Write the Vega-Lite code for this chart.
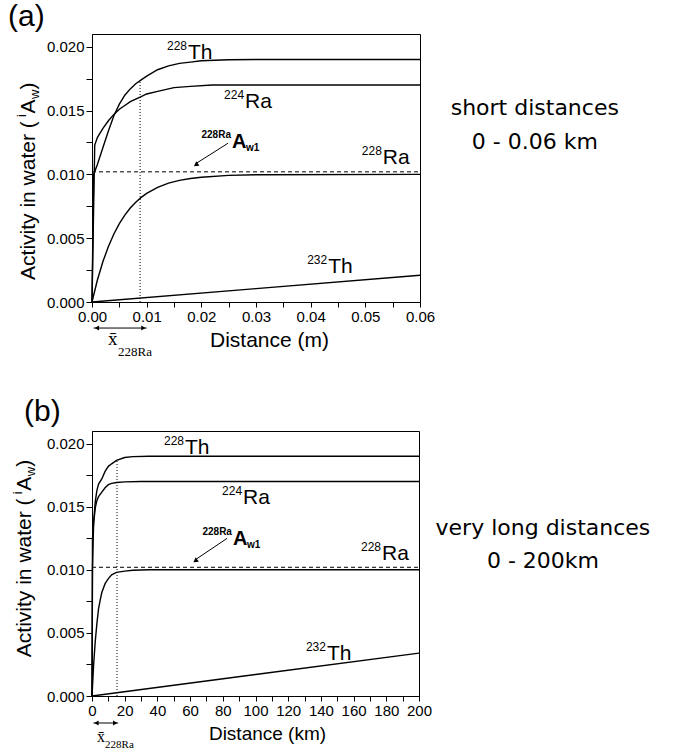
{
"padding": {"left": 7, "top": 1, "right": 5, "bottom": 2},
"bounds": "flush",
"spacing": 129,
"config": {
  "font": "Liberation Sans",
  "view": {"stroke": "black", "strokeWidth": 1},
  "mark": {"color": "black"},
  "axis": {"grid": false, "domainColor": "black", "tickColor": "black", "labelColor": "black", "titleColor": "black", "labelFont": "Liberation Sans", "titleFont": "Liberation Sans", "labelFontSize": 15, "titleFontSize": 21, "titleFontWeight": "normal", "labelFlush": false, "labelOverlap": false, "tickSize": 6, "labelPadding": 2, "domainWidth": 1, "tickWidth": 1}
},
"datasets": {
  "cA": [
    {"iso": "228Th", "x": 0, "y": 0}, {"iso": "228Th", "x": 0.0003, "y": 0.0100}, {"iso": "228Th", "x": 0.001, "y": 0.0108}, {"iso": "228Th", "x": 0.002, "y": 0.0121}, {"iso": "228Th", "x": 0.003, "y": 0.0134}, {"iso": "228Th", "x": 0.004, "y": 0.0146}, {"iso": "228Th", "x": 0.005, "y": 0.0155}, {"iso": "228Th", "x": 0.006, "y": 0.0162}, {"iso": "228Th", "x": 0.007, "y": 0.0167}, {"iso": "228Th", "x": 0.008, "y": 0.0171}, {"iso": "228Th", "x": 0.009, "y": 0.0174}, {"iso": "228Th", "x": 0.010, "y": 0.0177}, {"iso": "228Th", "x": 0.012, "y": 0.0182}, {"iso": "228Th", "x": 0.014, "y": 0.0185}, {"iso": "228Th", "x": 0.016, "y": 0.0187}, {"iso": "228Th", "x": 0.018, "y": 0.0188}, {"iso": "228Th", "x": 0.020, "y": 0.0189}, {"iso": "228Th", "x": 0.025, "y": 0.01898}, {"iso": "228Th", "x": 0.03, "y": 0.0190}, {"iso": "228Th", "x": 0.06, "y": 0.0190},
    {"iso": "224Ra", "x": 0, "y": 0}, {"iso": "224Ra", "x": 0.0005, "y": 0.0123}, {"iso": "224Ra", "x": 0.001, "y": 0.0129}, {"iso": "224Ra", "x": 0.002, "y": 0.0136}, {"iso": "224Ra", "x": 0.003, "y": 0.0142}, {"iso": "224Ra", "x": 0.004, "y": 0.0147}, {"iso": "224Ra", "x": 0.005, "y": 0.0151}, {"iso": "224Ra", "x": 0.006, "y": 0.0154}, {"iso": "224Ra", "x": 0.007, "y": 0.0157}, {"iso": "224Ra", "x": 0.008, "y": 0.0159}, {"iso": "224Ra", "x": 0.009, "y": 0.0161}, {"iso": "224Ra", "x": 0.010, "y": 0.0163}, {"iso": "224Ra", "x": 0.012, "y": 0.0165}, {"iso": "224Ra", "x": 0.015, "y": 0.0168}, {"iso": "224Ra", "x": 0.018, "y": 0.0169}, {"iso": "224Ra", "x": 0.022, "y": 0.0170}, {"iso": "224Ra", "x": 0.06, "y": 0.0170},
    {"iso": "228Ra", "x": 0, "y": 0}, {"iso": "228Ra", "x": 0.001, "y": 0.00174}, {"iso": "228Ra", "x": 0.002, "y": 0.00317}, {"iso": "228Ra", "x": 0.003, "y": 0.00435}, {"iso": "228Ra", "x": 0.004, "y": 0.00533}, {"iso": "228Ra", "x": 0.005, "y": 0.00614}, {"iso": "228Ra", "x": 0.006, "y": 0.00681}, {"iso": "228Ra", "x": 0.007, "y": 0.00736}, {"iso": "228Ra", "x": 0.008, "y": 0.00782}, {"iso": "228Ra", "x": 0.009, "y": 0.0082}, {"iso": "228Ra", "x": 0.010, "y": 0.00851}, {"iso": "228Ra", "x": 0.012, "y": 0.00898}, {"iso": "228Ra", "x": 0.014, "y": 0.00931}, {"iso": "228Ra", "x": 0.016, "y": 0.00953}, {"iso": "228Ra", "x": 0.018, "y": 0.00968}, {"iso": "228Ra", "x": 0.020, "y": 0.00978}, {"iso": "228Ra", "x": 0.025, "y": 0.00992}, {"iso": "228Ra", "x": 0.030, "y": 0.00997}, {"iso": "228Ra", "x": 0.060, "y": 0.0100},
    {"iso": "232Th", "x": 0, "y": 0}, {"iso": "232Th", "x": 0.03, "y": 0.00105}, {"iso": "232Th", "x": 0.06, "y": 0.0021}
  ],
  "cB": [
    {"iso": "228Th", "x": 0, "y": 0}, {"iso": "228Th", "x": 0.3, "y": 0.0100}, {"iso": "228Th", "x": 1, "y": 0.0138}, {"iso": "228Th", "x": 2, "y": 0.0154}, {"iso": "228Th", "x": 3, "y": 0.0163}, {"iso": "228Th", "x": 4, "y": 0.0168}, {"iso": "228Th", "x": 6, "y": 0.0172}, {"iso": "228Th", "x": 8, "y": 0.0178}, {"iso": "228Th", "x": 10, "y": 0.0182}, {"iso": "228Th", "x": 12, "y": 0.0184}, {"iso": "228Th", "x": 15, "y": 0.01867}, {"iso": "228Th", "x": 20, "y": 0.0189}, {"iso": "228Th", "x": 25, "y": 0.01897}, {"iso": "228Th", "x": 35, "y": 0.0190}, {"iso": "228Th", "x": 200, "y": 0.0190},
    {"iso": "224Ra", "x": 0, "y": 0}, {"iso": "224Ra", "x": 0.3, "y": 0.0125}, {"iso": "224Ra", "x": 1, "y": 0.0137}, {"iso": "224Ra", "x": 2, "y": 0.0149}, {"iso": "224Ra", "x": 3, "y": 0.0155}, {"iso": "224Ra", "x": 4, "y": 0.0158}, {"iso": "224Ra", "x": 6, "y": 0.01615}, {"iso": "224Ra", "x": 8, "y": 0.0165}, {"iso": "224Ra", "x": 10, "y": 0.01675}, {"iso": "224Ra", "x": 12, "y": 0.01685}, {"iso": "224Ra", "x": 15, "y": 0.01692}, {"iso": "224Ra", "x": 20, "y": 0.01697}, {"iso": "224Ra", "x": 30, "y": 0.0170}, {"iso": "224Ra", "x": 200, "y": 0.0170},
    {"iso": "228Ra", "x": 0, "y": 0}, {"iso": "228Ra", "x": 1, "y": 0.0025}, {"iso": "228Ra", "x": 2, "y": 0.00435}, {"iso": "228Ra", "x": 3, "y": 0.00576}, {"iso": "228Ra", "x": 4, "y": 0.0069}, {"iso": "228Ra", "x": 5, "y": 0.0076}, {"iso": "228Ra", "x": 6, "y": 0.0082}, {"iso": "228Ra", "x": 8, "y": 0.0089}, {"iso": "228Ra", "x": 10, "y": 0.0093}, {"iso": "228Ra", "x": 12, "y": 0.0096}, {"iso": "228Ra", "x": 15, "y": 0.0098}, {"iso": "228Ra", "x": 20, "y": 0.0099}, {"iso": "228Ra", "x": 25, "y": 0.00997}, {"iso": "228Ra", "x": 35, "y": 0.0100}, {"iso": "228Ra", "x": 200, "y": 0.0100},
    {"iso": "232Th", "x": 0, "y": 0}, {"iso": "232Th", "x": 100, "y": 0.0017}, {"iso": "232Th", "x": 200, "y": 0.0034}
  ],
  "lA": [
    {"x": 0.01756, "y": 0.01906, "base": "Th", "sup": "228"},
    {"x": 0.0280, "y": 0.0152, "base": "Ra", "sup": "224"},
    {"x": 0.0532, "y": 0.01079, "base": "Ra", "sup": "228"},
    {"x": 0.0432, "y": 0.00228, "base": "Th", "sup": "232"}
  ],
  "lB": [
    {"x": 56.9, "y": 0.0192, "base": "Th", "sup": "228"},
    {"x": 92.4, "y": 0.0152, "base": "Ra", "sup": "224"},
    {"x": 177.4, "y": 0.01075, "base": "Ra", "sup": "228"},
    {"x": 143.7, "y": 0.00285, "base": "Th", "sup": "232"}
  ],
  "awA": [{"x": 0.0256, "y": 0.01205}],
  "awB": [{"x": 86.2, "y": 0.01194}],
  "ytA": [{"x": -0.01043, "y": 0.00173}],
  "ytB": [{"x": -37.3, "y": 0.00308}],
  "xbA": [{"x": 0.00293, "y": -0.00337}],
  "xsA": [{"x": 0.00476, "y": -0.00423}],
  "xbB": [{"x": 3.1, "y": -0.00364}],
  "xsB": [{"x": 8.0, "y": -0.00412}]
},
"vconcat": [
  {
    "width": 328, "height": 268,
    "encoding": {
      "x": {"field": "x", "type": "quantitative", "scale": {"domain": [0, 0.06], "nice": false, "zero": false},
        "axis": {"title": "Distance (m)", "values": [0, 0.005, 0.01, 0.015, 0.02, 0.025, 0.03, 0.035, 0.04, 0.045, 0.05, 0.055, 0.06], "labelExpr": "round(datum.value*1000) % 10 == 0 ? format(datum.value, '.2f') : ''", "titleX": 177, "titleY": 44, "titleBaseline": "alphabetic", "titleFontSize": 21, "tickSize": 5}},
      "y": {"field": "y", "type": "quantitative", "scale": {"domain": [0, 0.021], "nice": false},
        "axis": {"title": null, "values": [0, 0.0025, 0.005, 0.0075, 0.01, 0.0125, 0.015, 0.0175, 0.02], "labelExpr": "round(datum.value*10000) % 50 == 0 ? format(datum.value, '.3f') : ''"}}
    },
    "layer": [
      {"data": {"name": "cA"}, "mark": {"type": "line", "strokeWidth": 1.4}, "encoding": {"detail": {"field": "iso"}}},
      {"data": {"values": [{"x": 0, "y": 0.0102, "x2": 0.06}]}, "mark": {"type": "rule", "strokeDash": [4, 3], "strokeWidth": 1}, "encoding": {"x2": {"field": "x2"}}},
      {"data": {"values": [{"x": 0.0088, "y": 0, "y2": 0.0174}]}, "mark": {"type": "rule", "strokeDash": [1, 2], "strokeWidth": 1}, "encoding": {"y2": {"field": "y2"}}},
      {"data": {"values": [{"x": 0.02488, "y": 0.01244, "x2": 0.0192, "y2": 0.0109}]}, "mark": {"type": "rule", "strokeWidth": 1}, "encoding": {"x2": {"field": "x2"}, "y2": {"field": "y2"}}},
      {"data": {"values": [{"x": 0.0190, "y": 0.01075}]}, "mark": {"type": "point", "shape": "triangle-up", "angle": 235, "size": 30, "filled": true, "opacity": 1}},
      {"data": {"values": [{"x": 0.0003, "y": -0.00204, "x2": 0.0100}]}, "mark": {"type": "rule", "strokeWidth": 1}, "encoding": {"x2": {"field": "x2"}}},
      {"data": {"values": [{"x": 0.0009, "y": -0.00204, "d": "L"}, {"x": 0.0094, "y": -0.00204, "d": "R"}]}, "mark": {"type": "point", "filled": true, "opacity": 1, "size": 25},
        "encoding": {"shape": {"field": "d", "type": "nominal", "scale": {"domain": ["L", "R"], "range": ["triangle-left", "triangle-right"]}, "legend": null}}},
      {"data": {"name": "lA"}, "mark": {"type": "text", "align": "left", "baseline": "alphabetic", "fontSize": 21}, "encoding": {"text": {"field": "base"}}},
      {"data": {"name": "lA"}, "mark": {"type": "text", "align": "right", "baseline": "alphabetic", "fontSize": 12, "dx": -1, "dy": -9}, "encoding": {"text": {"field": "sup"}}},
      {"data": {"name": "awA"}, "mark": {"type": "text", "align": "right", "baseline": "alphabetic", "fontSize": 10, "fontWeight": "bold", "dx": -1, "dy": -10, "text": "228Ra"}},
      {"data": {"name": "awA"}, "mark": {"type": "text", "align": "left", "baseline": "alphabetic", "fontSize": 20, "fontWeight": "bold", "text": "A"}},
      {"data": {"name": "awA"}, "mark": {"type": "text", "align": "left", "baseline": "alphabetic", "fontSize": 10, "fontWeight": "bold", "dx": 14, "dy": 3, "text": "w1"}},
      {"data": {"values": [{"x": 0.081, "y": 0.01465, "t": "short distances"}, {"x": 0.081, "y": 0.01197, "t": "0 - 0.06 km"}]}, "mark": {"type": "text", "align": "center", "baseline": "alphabetic", "font": "DejaVu Sans", "fontSize": 22}, "encoding": {"text": {"field": "t"}}},
      {"data": {"values": [{"x": -0.01537, "y": 0.02165, "t": "(a)"}]}, "mark": {"type": "text", "align": "left", "baseline": "alphabetic", "fontSize": 30}, "encoding": {"text": {"field": "t"}}},
      {"data": {"name": "ytA"}, "mark": {"type": "text", "angle": -90, "align": "left", "baseline": "alphabetic", "fontSize": 21, "text": "Activity in water ("}},
      {"data": {"name": "ytA"}, "mark": {"type": "text", "angle": -90, "align": "left", "baseline": "alphabetic", "fontSize": 13, "dx": 163, "dy": -9, "text": "i"}},
      {"data": {"name": "ytA"}, "mark": {"type": "text", "angle": -90, "align": "left", "baseline": "alphabetic", "fontSize": 21, "dx": 166.5, "text": "A"}},
      {"data": {"name": "ytA"}, "mark": {"type": "text", "angle": -90, "align": "left", "baseline": "alphabetic", "fontSize": 13, "dx": 181, "dy": 4, "text": "w"}},
      {"data": {"name": "ytA"}, "mark": {"type": "text", "angle": -90, "align": "left", "baseline": "alphabetic", "fontSize": 21, "dx": 190.5, "text": ")"}},
      {"data": {"name": "xbA"}, "mark": {"type": "text", "align": "left", "baseline": "alphabetic", "font": "Liberation Serif", "fontSize": 19, "text": "x̄"}},
      {"data": {"name": "xsA"}, "mark": {"type": "text", "align": "left", "baseline": "alphabetic", "font": "Liberation Serif", "fontSize": 13, "text": "228Ra"}}
    ]
  },
  {
    "width": 327, "height": 265,
    "encoding": {
      "x": {"field": "x", "type": "quantitative", "scale": {"domain": [0, 200], "nice": false, "zero": false},
        "axis": {"title": "Distance (km)", "values": [0, 10, 20, 30, 40, 50, 60, 70, 80, 90, 100, 110, 120, 130, 140, 150, 160, 170, 180, 190, 200], "labelExpr": "datum.value % 20 == 0 ? format(datum.value, 'd') : ''", "titleX": 175, "titleY": 43, "titleBaseline": "alphabetic", "titleFontSize": 19, "tickSize": 5}},
      "y": {"field": "y", "type": "quantitative", "scale": {"domain": [0, 0.021], "nice": false},
        "axis": {"title": null, "values": [0, 0.0025, 0.005, 0.0075, 0.01, 0.0125, 0.015, 0.0175, 0.02], "labelExpr": "round(datum.value*10000) % 50 == 0 ? format(datum.value, '.3f') : ''"}}
    },
    "layer": [
      {"data": {"name": "cB"}, "mark": {"type": "line", "strokeWidth": 1.4}, "encoding": {"detail": {"field": "iso"}}},
      {"data": {"values": [{"x": 0, "y": 0.0102, "x2": 200}]}, "mark": {"type": "rule", "strokeDash": [4, 3], "strokeWidth": 1}, "encoding": {"x2": {"field": "x2"}}},
      {"data": {"values": [{"x": 15.3, "y": 0, "y2": 0.0187}]}, "mark": {"type": "rule", "strokeDash": [1, 2], "strokeWidth": 1}, "encoding": {"y2": {"field": "y2"}}},
      {"data": {"values": [{"x": 82.6, "y": 0.01249, "x2": 63.8, "y2": 0.01085}]}, "mark": {"type": "rule", "strokeWidth": 1}, "encoding": {"x2": {"field": "x2"}, "y2": {"field": "y2"}}},
      {"data": {"values": [{"x": 63.2, "y": 0.0107}]}, "mark": {"type": "point", "shape": "triangle-up", "angle": 234, "size": 30, "filled": true, "opacity": 1}},
      {"data": {"values": [{"x": 0.9, "y": -0.00214, "x2": 16}]}, "mark": {"type": "rule", "strokeWidth": 1}, "encoding": {"x2": {"field": "x2"}}},
      {"data": {"values": [{"x": 2.7, "y": -0.00214, "d": "L"}, {"x": 14.2, "y": -0.00214, "d": "R"}]}, "mark": {"type": "point", "filled": true, "opacity": 1, "size": 25},
        "encoding": {"shape": {"field": "d", "type": "nominal", "scale": {"domain": ["L", "R"], "range": ["triangle-left", "triangle-right"]}, "legend": null}}},
      {"data": {"name": "lB"}, "mark": {"type": "text", "align": "left", "baseline": "alphabetic", "fontSize": 21}, "encoding": {"text": {"field": "base"}}},
      {"data": {"name": "lB"}, "mark": {"type": "text", "align": "right", "baseline": "alphabetic", "fontSize": 12, "dx": -1, "dy": -9}, "encoding": {"text": {"field": "sup"}}},
      {"data": {"name": "awB"}, "mark": {"type": "text", "align": "right", "baseline": "alphabetic", "fontSize": 10, "fontWeight": "bold", "dx": -1, "dy": -10, "text": "228Ra"}},
      {"data": {"name": "awB"}, "mark": {"type": "text", "align": "left", "baseline": "alphabetic", "fontSize": 20, "fontWeight": "bold", "text": "A"}},
      {"data": {"name": "awB"}, "mark": {"type": "text", "align": "left", "baseline": "alphabetic", "fontSize": 10, "fontWeight": "bold", "dx": 14, "dy": 3, "text": "w1"}},
      {"data": {"values": [{"x": 275.8, "y": 0.01273, "t": "very long distances"}, {"x": 275.8, "y": 0.01012, "t": "0 - 200km"}]}, "mark": {"type": "text", "align": "center", "baseline": "alphabetic", "font": "DejaVu Sans", "fontSize": 22}, "encoding": {"text": {"field": "t"}}},
      {"data": {"values": [{"x": -41.6, "y": 0.0218, "t": "(b)"}]}, "mark": {"type": "text", "align": "left", "baseline": "alphabetic", "fontSize": 30}, "encoding": {"text": {"field": "t"}}},
      {"data": {"name": "ytB"}, "mark": {"type": "text", "angle": -90, "align": "left", "baseline": "alphabetic", "fontSize": 21, "text": "Activity in water ("}},
      {"data": {"name": "ytB"}, "mark": {"type": "text", "angle": -90, "align": "left", "baseline": "alphabetic", "fontSize": 13, "dx": 163, "dy": -9, "text": "i"}},
      {"data": {"name": "ytB"}, "mark": {"type": "text", "angle": -90, "align": "left", "baseline": "alphabetic", "fontSize": 21, "dx": 166.5, "text": "A"}},
      {"data": {"name": "ytB"}, "mark": {"type": "text", "angle": -90, "align": "left", "baseline": "alphabetic", "fontSize": 13, "dx": 181, "dy": 4, "text": "w"}},
      {"data": {"name": "ytB"}, "mark": {"type": "text", "angle": -90, "align": "left", "baseline": "alphabetic", "fontSize": 21, "dx": 190.5, "text": ")"}},
      {"data": {"name": "xbB"}, "mark": {"type": "text", "align": "left", "baseline": "alphabetic", "font": "Liberation Serif", "fontSize": 16, "text": "x̄"}},
      {"data": {"name": "xsB"}, "mark": {"type": "text", "align": "left", "baseline": "alphabetic", "font": "Liberation Serif", "fontSize": 11, "text": "228Ra"}}
    ]
  }
]
}
